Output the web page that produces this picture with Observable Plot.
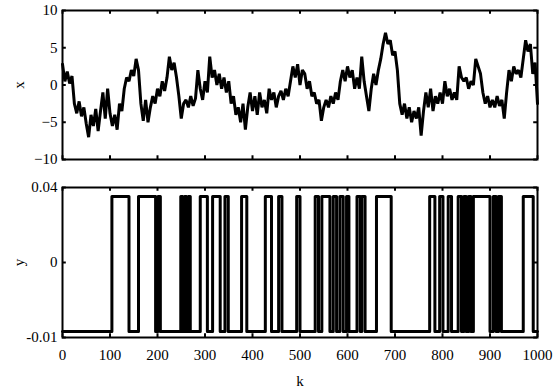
<!DOCTYPE html>
<html>
<head>
<meta charset="utf-8">
<script src="https://cdn.jsdelivr.net/npm/d3@7"></script>
<script src="https://cdn.jsdelivr.net/npm/@observablehq/plot@0.6"></script>
<style>
  html, body { margin: 0; padding: 0; background: white; }
  #chart { width: 558px; height: 388px; }
  #chart svg { display: block; }
  #chart svg, #chart svg text { font-family: "Liberation Serif", "Times New Roman", serif !important; }
</style>
</head>
<body>
<div id="chart"></div>
<script>
// ---- data ----
const kStep = 5;
const xValues = [
  2.8, 0.5, 1.8, 0.2, 1.2, -2.5, -3.8, -2.2, -4.2, -3.0,
  -5.2, -7.0, -4.0, -5.5, -3.2, -6.2, -3.5, -1.0, -4.5, -0.5,
  -3.8, -5.5, -4.0, -6.0, -2.5, -3.5, -0.5, 1.0, 0.5, 2.0,
  1.2, 3.5, 2.0, -2.5, -4.8, -2.0, -5.0, -3.0, -1.5, -2.5,
  -0.5, -1.5, 0.5, -0.8, 1.0, 3.8, 2.0, 3.0, 1.0, -1.5,
  -4.5, -2.5, -2.0, -3.0, -1.5, -2.8, -1.8, 2.0, -0.5, -2.0,
  0.5, -1.0, 3.8, 1.0, 2.0, 0.0, 1.5, -0.5, 1.0, -1.0,
  0.5, -2.5, -1.5, -4.0, -3.0, -5.0, -2.5, -6.0, -3.0, -1.0,
  -3.5, -1.5, -4.0, -1.0, -3.0, -2.0, -3.8, -0.5, -2.0, -1.0,
  -3.0, -1.5, -0.8, -2.0, -0.5, -1.5, 0.5, 2.5, 1.0, 2.8,
  0.0, 2.0, 1.5, -0.5, 0.5, -1.5, -1.0, -2.5, -2.0, -4.8,
  -3.0, -2.0, -3.0, -1.5, -2.5, -1.0, -2.0, 0.5, 2.0, 0.5,
  2.5, 1.0, 2.0, -0.5, 1.0, -0.5, 3.8, 0.5, -1.5, -3.5,
  -0.5, 1.5, 0.0, 2.0, 3.5, 5.5, 7.0, 5.5, 6.0, 4.0,
  4.5, 2.0, -2.5, -4.0, -2.5, -4.5, -3.0, -5.0, -3.5, -4.5,
  -3.0, -6.8, -3.5, -1.0, -3.0, -0.5, -3.5, -1.5, -2.5, -1.0,
  -2.5, 0.5, -1.5, -0.5, -2.0, -1.0, -2.0, 2.5, 1.0, 0.5,
  1.0, -0.5, 0.5, 0.0, 3.5, 2.5, 1.5, -1.0, -2.5, -1.5,
  -3.0, -2.0, -3.0, -1.5, -2.8, -2.0, -4.5, -1.0, 2.0, 0.5,
  2.5, 1.5, 2.0, 1.0, 3.5, 6.0, 4.5, 5.5, 1.5, 3.0,
  -2.5
];
// y: two-level signal, k at which it switches (starts low)
const yLow = -0.008;
const yHigh = 0.037;
const ySwitchK = [104,140,160,196,201,206,249,253,257,261,265,269,290,305,316,332,342,349,377,388,
  427,440,455,462,493,500,532,539,546,563,570,577,584,591,598,603,620,627,630,637,661,692,
  773,784,794,801,812,819,833,840,845,850,855,860,865,900,907,913,918,924,970,991];
const kDomain = [0, 1000];
const kTicks = [0,100,200,300,400,500,600,700,800,900,1000];
const xDomain = [-10, 10];
const xTicks = [-10, -5, 0, 5, 10];
const yDomain = [-0.01, 0.04];
const yTicks = [-0.01, 0.015, 0.04];
const yTickLabels = ["-0.01", "0", "0.04"];

// ---- build tables ----
const xData = xValues.map((v, i) => ({k: i * kStep, x: v}));
const yData = [{k: kDomain[0], y: yLow}];
let state = false;
for (const k of ySwitchK) { state = !state; yData.push({k, y: state ? yHigh : yLow}); }
yData.push({k: kDomain[1], y: state ? yHigh : yLow});

const font = "Liberation Serif";
const W = 558, ML = 62, MR = 21;

function inwardTicks(yTickVals, yDom) {
  const kLen = 8, yLen = (yDom[1] - yDom[0]) * 0.025;
  return [
    Plot.ruleY(yTickVals, {x1: kDomain[0], x2: kDomain[0] + kLen, stroke: "black", strokeWidth: 2}),
    Plot.ruleY(yTickVals, {x1: kDomain[1] - kLen, x2: kDomain[1], stroke: "black", strokeWidth: 2}),
    Plot.ruleX(kTicks, {y1: yDom[0], y2: yDom[0] + yLen, stroke: "black", strokeWidth: 2}),
    Plot.ruleX(kTicks, {y1: yDom[1] - yLen, y2: yDom[1], stroke: "black", strokeWidth: 2})
  ];
}

const topPlot = Plot.plot({
  width: W, height: 170,
  marginTop: 10, marginBottom: 11, marginLeft: ML, marginRight: MR,
  style: {fontFamily: font, fontSize: "15px", color: "black", background: "white"},
  x: {domain: kDomain},
  y: {domain: xDomain},
  marks: [
    ...inwardTicks(xTicks, xDomain),
    Plot.line(xData, {x: "k", y: "x", stroke: "black", strokeWidth: 3, strokeLinejoin: "miter"}),
    Plot.frame({stroke: "black", strokeWidth: 2}),
    Plot.axisY(xTicks, {anchor: "left", tickSize: 0, tickPadding: 5, fontSize: 15, fontFamily: font,
      label: "x", labelAnchor: "center", labelOffset: 49, labelArrow: "none"}),
    Plot.axisX({ticks: [], label: null})
  ]
});

const bottomPlot = Plot.plot({
  width: W, height: 218,
  marginTop: 17, marginBottom: 51, marginLeft: ML, marginRight: MR,
  style: {fontFamily: font, fontSize: "15px", color: "black", background: "white"},
  x: {domain: kDomain},
  y: {domain: yDomain},
  marks: [
    ...inwardTicks(yTicks, yDomain),
    Plot.line(yData, {x: "k", y: "y", curve: "step-after", stroke: "black", strokeWidth: 3}),
    Plot.frame({stroke: "black", strokeWidth: 2}),
    Plot.axisY(yTicks, {anchor: "left", tickSize: 0, tickPadding: 5, fontSize: 15, fontFamily: font,
      tickFormat: (d, i) => yTickLabels[i],
      label: "y", labelAnchor: "center", labelOffset: 49, labelArrow: "none"}),
    Plot.axisX(kTicks, {anchor: "bottom", tickSize: 0, tickPadding: 12, fontSize: 15, fontFamily: font,
      tickFormat: d3.format("d"),
      label: "k", labelAnchor: "center", labelOffset: 48, labelArrow: "none"})
  ]
});

const chart = document.getElementById("chart");
chart.appendChild(topPlot);
chart.appendChild(bottomPlot);
</script>
</body>
</html>
